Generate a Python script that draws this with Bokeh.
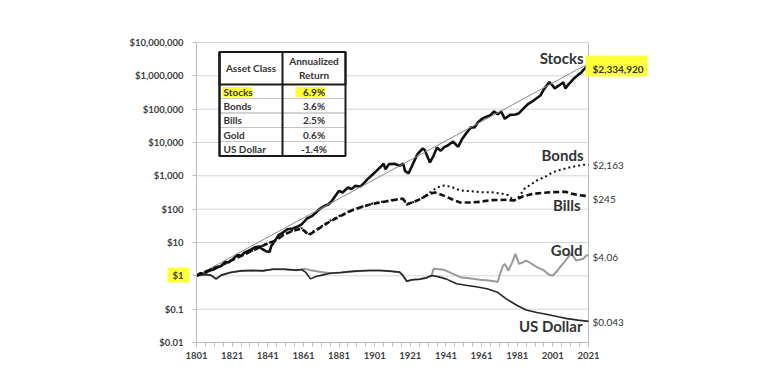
from bokeh.plotting import figure
from bokeh.models import Range1d, FixedTicker, Label, BoxAnnotation
from bokeh.embed import file_html
from bokeh.resources import INLINE

# ---------------- data ----------------
stocks_years = [1801, 1803, 1805, 1807, 1809, 1811, 1813, 1815, 1817, 1819, 1821, 1824, 1826, 1828,
                1830, 1832, 1834, 1836, 1838, 1840, 1842, 1843, 1845, 1847, 1849, 1852, 1855, 1858,
                1860, 1863, 1866, 1869, 1871, 1873, 1875, 1877, 1879, 1881, 1883, 1886, 1888, 1890,
                1893, 1895, 1897, 1900, 1902, 1905, 1906, 1907, 1909, 1912, 1915, 1917, 1918, 1920,
                1922, 1925, 1928, 1929, 1932, 1934, 1936, 1938, 1940, 1942, 1945, 1947, 1948, 1950,
                1952, 1955, 1957, 1959, 1961, 1963, 1966, 1968, 1970, 1972, 1974, 1977, 1980, 1982,
                1985, 1987, 1990, 1994, 1996, 1999, 2001, 2002, 2004, 2006, 2007, 2008, 2010, 2011,
                2013, 2015, 2017, 2018, 2019, 2021]
stocks_values = [1.0, 1.2, 1.12, 1.32, 1.48, 1.58, 1.82, 2.0, 2.63, 2.51, 3.02, 4.27, 3.98, 5.0,
                 5.6, 6.3, 7.2, 7.6, 6.3, 5.5, 5.2, 7.9, 11.2, 16.6, 19.1, 25.1, 26.3, 30.2,
                 34.7, 52.5, 63, 89, 110, 126, 138, 178, 251, 355, 316, 447, 398, 501,
                 479, 603, 794, 1120, 1410, 2000, 2340, 1580, 2240, 2290, 2000, 2340, 1410, 1170,
                 2000, 4470, 6610, 6030, 2510, 3980, 7080, 5620, 7240, 8130, 10700, 8130, 7590, 12600,
                 17800, 28800, 28200, 40700, 50100, 57500, 66100, 85100, 70800, 85100, 51300, 67600, 69200, 75900,
                 112000, 141000, 178000, 257000, 398000, 646000, 501000, 417000, 501000, 589000, 631000, 417000, 575000, 646000,
                 851000, 1050000, 1260000, 1480000, 1660000, 2334920]

trend_years = [1801, 2021]
trend_values = [1.0, 2334920]

bonds_years = [1801, 1805, 1810, 1815, 1820, 1825, 1830, 1835, 1838, 1841, 1845, 1850, 1855, 1860,
               1862, 1864, 1870, 1876, 1882, 1888, 1894, 1900, 1905, 1910, 1915, 1917, 1919, 1923,
               1927, 1932, 1936, 1940, 1944, 1949, 1955, 1960, 1966, 1973, 1976, 1979, 1981, 1985,
               1992, 1997, 2001, 2006, 2011, 2015, 2018, 2021]
bonds_values = [1.0, 1.26, 1.66, 2.0, 2.82, 3.8, 5.0, 6.6, 8.3, 9.5, 11.5, 17.5, 23.0, 27.0,
                22, 17.8, 28, 45, 66, 93, 120, 148, 166, 186, 204, 204, 138, 166,
                204, 316, 447, 513, 468, 363, 347, 324, 324, 288, 263, 182, 200, 407,
                724, 955, 1290, 1550, 1820, 2000, 2140, 2163]

bills_years = [1801, 1805, 1810, 1815, 1820, 1825, 1830, 1835, 1838, 1841, 1845, 1850, 1855, 1860,
               1862, 1864, 1870, 1876, 1882, 1888, 1894, 1900, 1905, 1910, 1915, 1917, 1919, 1923,
               1927, 1932, 1935, 1940, 1945, 1949, 1955, 1960, 1966, 1975, 1979, 1984, 1990, 1995,
               2000, 2008, 2012, 2016, 2021]
bills_values = [1.0, 1.26, 1.6, 2.1, 2.82, 3.7, 5.0, 6.6, 7.9, 9.3, 11.2, 17.0, 22.5, 26.0,
                21, 16.6, 27, 43, 63, 91, 118, 145, 162, 182, 200, 204, 138, 166,
                204, 295, 316, 251, 191, 158, 158, 166, 186, 191, 182, 240, 288, 309,
                324, 331, 288, 263, 245]

gold_years = [1801, 1805, 1809, 1812, 1815, 1820, 1826, 1832, 1838, 1844, 1850, 1857, 1860, 1862,
              1865, 1870, 1876, 1882, 1890, 1898, 1904, 1910, 1915, 1917, 1919, 1922, 1926, 1930,
              1933, 1934, 1937, 1940, 1945, 1949, 1955, 1960, 1965, 1968, 1970, 1971, 1973, 1974,
              1976, 1978, 1980, 1982, 1984, 1986, 1988, 1992, 1996, 1999, 2001, 2003, 2005, 2008,
              2011, 2013, 2014, 2016, 2018, 2020, 2021]
gold_values = [1.0, 1.1, 1.05, 0.81, 1.05, 1.26, 1.41, 1.45, 1.41, 1.58, 1.58, 1.48, 1.55, 1.62,
               1.48, 1.32, 1.2, 1.26, 1.38, 1.45, 1.45, 1.38, 1.29, 1.0, 0.69, 0.76, 0.79, 0.87,
               1.02, 1.62, 1.58, 1.51, 1.15, 0.91, 0.83, 0.76, 0.72, 0.69, 0.65, 1.0, 2.0, 2.29,
               1.45, 2.4, 4.57, 2.29, 2.51, 2.88, 2.51, 1.82, 1.45, 1.07, 1.02, 1.32, 1.82, 2.82,
               4.57, 3.55, 2.88, 3.02, 3.24, 4.17, 4.06]

dollar_years = [1801, 1805, 1809, 1812, 1815, 1820, 1826, 1832, 1838, 1844, 1850, 1857, 1860, 1862,
                1865, 1868, 1872, 1876, 1882, 1890, 1898, 1904, 1910, 1915, 1917, 1919, 1922, 1926,
                1930, 1933, 1937, 1941, 1947, 1953, 1958, 1964, 1970, 1975, 1981, 1986, 1992, 1998,
                2004, 2009, 2015, 2021]
dollar_values = [1.0, 1.1, 1.05, 0.81, 1.05, 1.26, 1.41, 1.45, 1.41, 1.58, 1.58, 1.48, 1.55, 1.32,
                 0.81, 0.95, 1.07, 1.2, 1.26, 1.38, 1.45, 1.45, 1.38, 1.29, 1.0, 0.69, 0.76, 0.79,
                 0.87, 1.02, 0.93, 0.81, 0.58, 0.51, 0.47, 0.41, 0.32, 0.20, 0.129, 0.095, 0.079, 0.069,
                 0.059, 0.052, 0.047, 0.043]

series_names = ["Stocks", "Bonds", "Bills", "Gold", "US Dollar"]
end_labels = ["$2,334,920", "$2,163", "$245", "$4.06", "$0.043"]
table_header = ["Asset Class", "Annualized", "Return"]
table_returns = ["6.9%", "3.6%", "2.5%", "0.6%", "-1.4%"]

x_tick_values = [1801, 1821, 1841, 1861, 1881, 1901, 1921, 1941, 1961, 1981, 2001, 2021]
x_minor_ticks = list(range(1801, 2022, 5))
y_tick_values = [0.01, 0.1, 1, 10, 100, 1000, 10000, 100000, 1000000, 10000000]
y_tick_labels = ["$0.01", "$0.1", "$1", "$10", "$100", "$1,000", "$10,000",
                 "$100,000", "$1,000,000", "$10,000,000"]

# ---------------- layout ----------------
FONT = "Lato"
X0, X1 = 1801, 2021          # plotted span of years
Y0, Y1 = 0.01, 1e7           # plotted span of values
PL, PT, PW, PH = 196, 42, 392, 300     # plotted area on the canvas (px)
FL, FT, FR, FB = 120, 32, 660, 363     # drawing frame (larger, so tick labels and highlights are not clipped)
W = 708


def yr(fx):
    """pixel offset from the plotted area's left edge -> year"""
    return X0 + fx * (X1 - X0) / PW


def val(fy):
    """pixel offset from the plotted area's top edge -> value on the log axis"""
    return 10 ** (7 - fy * 9 / PH)


p = figure(frame_width=FR - FL, frame_height=FB - FT,
           x_range=Range1d(yr(FL - PL), yr(FR - PL)), y_range=Range1d(val(FB - PT), val(FT - PT)),
           y_axis_type="log", output_backend="svg", toolbar_location=None,
           min_border_left=FL, min_border_right=W - FR, min_border_top=FT, min_border_bottom=0)
p.background_fill_color = "white"
p.border_fill_color = "white"
p.outline_line_color = None
p.xgrid.visible = False
p.ygrid.visible = False

GRID = "#d6d6d6"
AXIS = "#bdbdbd"
YELLOW = "#ffff3a"

# highlight behind the $1 tick label
p.add_layout(BoxAnnotation(left=yr(-29), right=yr(-7), top=val(225), bottom=val(240),
                           fill_color=YELLOW, fill_alpha=1, line_alpha=0, level="underlay"))

# gridlines and right border of the plotted area
p.segment(x0=[X0] * len(y_tick_values), x1=[X1] * len(y_tick_values),
          y0=y_tick_values, y1=y_tick_values, line_color=GRID, line_width=1)
p.segment(x0=[X1], x1=[X1], y0=[Y0], y1=[Y1], line_color=AXIS, line_width=1)

p.xaxis.ticker = FixedTicker(ticks=x_tick_values, minor_ticks=x_minor_ticks)
p.xaxis.bounds = (X0, X1)
p.xaxis.fixed_location = Y0
p.yaxis.ticker = FixedTicker(ticks=y_tick_values, minor_ticks=[])
p.yaxis.bounds = (Y0, Y1)
p.yaxis.fixed_location = X0
p.yaxis.major_label_overrides = {v: l for v, l in zip(y_tick_values, y_tick_labels)}
for ax in (p.xaxis, p.yaxis):
    ax.axis_line_color = AXIS
    ax.major_tick_line_color = AXIS
    ax.minor_tick_line_color = AXIS
    ax.major_tick_out = 4
    ax.major_tick_in = 0
    ax.minor_tick_out = 4
    ax.minor_tick_in = 0
    ax.major_label_text_font = FONT
    ax.major_label_text_font_style = "bold"
    ax.major_label_text_font_size = "9.5px"
    ax.major_label_text_color = "#404040"
p.yaxis.major_label_standoff = 9
p.xaxis.major_label_standoff = 5

# ---------------- lines ----------------
p.line(stocks_years, stocks_values, line_color="#111111", line_width=2.6)
p.line(trend_years, trend_values, line_color="#8a8a8a", line_width=1)
p.line(gold_years, gold_values, line_color="#9a9a9a", line_width=2)
p.line(dollar_years, dollar_values, line_color="#262626", line_width=1.6)
p.line(bills_years, bills_values, line_color="#111111", line_width=2.6, line_dash="6 3")
p.line(bonds_years, bonds_values, line_color="#111111", line_width=2, line_dash="2 3")

# ---------------- series labels ----------------
name_pos = [(387, 15), (387, 112), (384, 162), (386, 207), (386, 283)]
for name, (fx, fy) in zip(series_names, name_pos):
    p.add_layout(Label(x=yr(fx), y=val(fy), text=name, text_align="right",
                       text_baseline="middle", text_font=FONT, text_font_style="bold",
                       text_font_size="15px", text_color="#333333"))

# end-of-line values
p.add_layout(BoxAnnotation(left=yr(389), right=yr(451), top=val(13), bottom=val(34),
                           fill_color=YELLOW, fill_alpha=1, line_alpha=0))
end_vals = [stocks_values[-1], bonds_values[-1], bills_values[-1], gold_values[-1], dollar_values[-1]]
end_shift_px = [5, 0, 3, 1, 1]  # label sits slightly below the line end
for i, (txt, v) in enumerate(zip(end_labels, end_vals)):
    p.add_layout(Label(x=X1, y=v * 10 ** (-end_shift_px[i] * 9 / PH), x_offset=4, text=txt,
                       text_align="left", text_baseline="middle", text_font=FONT,
                       text_font_style="bold" if i == 0 else "normal",
                       text_font_size="10px", text_color="#333333"))

# ---------------- table ----------------
tl, tr, td = 23, 149, 86
tt, th, tb = 9.5, 42, 113.5
rows = [42, 56, 70.5, 85, 99, 113.5]

p.add_layout(BoxAnnotation(left=yr(tl), right=yr(tr), top=val(tt), bottom=val(tb),
                           fill_color="white", fill_alpha=1, line_alpha=0))
for i in range(1, len(rows) - 1):
    p.add_layout(BoxAnnotation(left=yr(tl), right=yr(tr), top=val(rows[i]), bottom=val(rows[i + 1]),
                               fill_alpha=0, line_color="#c4c4c4", line_alpha=1, line_width=1))
p.add_layout(BoxAnnotation(left=yr(25.5), right=yr(55.5), top=val(44.5), bottom=val(54.5),
                           fill_color=YELLOW, fill_alpha=1, line_alpha=0))
p.add_layout(BoxAnnotation(left=yr(99), right=yr(129), top=val(44.5), bottom=val(54.5),
                           fill_color=YELLOW, fill_alpha=1, line_alpha=0))
for (l, r, t, b) in [(tl, tr, tt, th), (tl, td, tt, tb), (tl, tr, tt, tb)]:
    p.add_layout(BoxAnnotation(left=yr(l), right=yr(r), top=val(t), bottom=val(b),
                               fill_alpha=0, line_color="#1a1a1a", line_alpha=1, line_width=2))

tab_font = dict(text_font=FONT, text_font_style="bold", text_font_size="10px",
                text_color="#333333", text_baseline="middle")
p.add_layout(Label(x=yr(54.5), y=val(25), text=table_header[0], text_align="center", **tab_font))
p.add_layout(Label(x=yr(117.5), y=val(18), text=table_header[1], text_align="center", **tab_font))
p.add_layout(Label(x=yr(117.5), y=val(32), text=table_header[2], text_align="center", **tab_font))
for i, (nm, ret) in enumerate(zip(series_names, table_returns)):
    cy = (rows[i] + rows[i + 1]) / 2
    p.add_layout(Label(x=yr(27), y=val(cy), text=nm, text_align="left", **tab_font))
    p.add_layout(Label(x=yr(117.5), y=val(cy), text=ret, text_align="center", **tab_font))

open("out.html", "w").write(file_html(p, INLINE))
